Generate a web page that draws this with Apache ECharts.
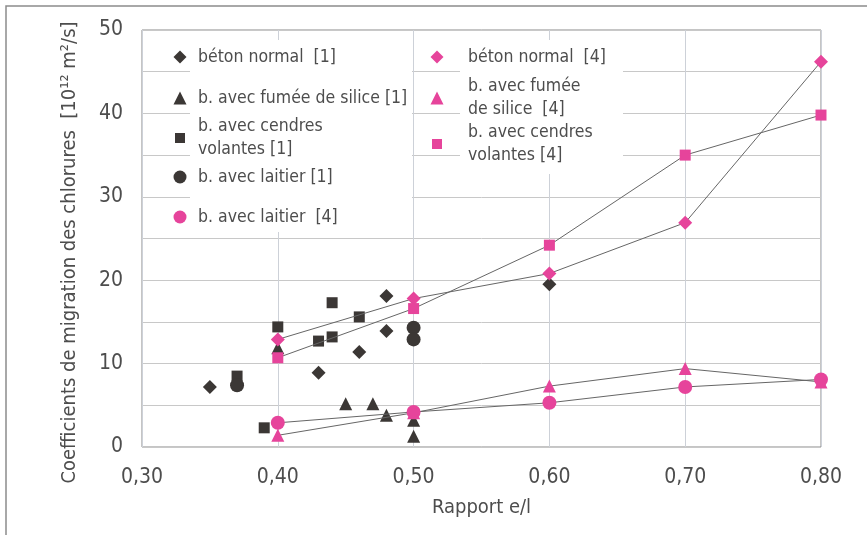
<!DOCTYPE html>
<html>
<head>
<meta charset="utf-8">
<script src="https://cdn.jsdelivr.net/npm/echarts@6/dist/echarts.min.js"></script>
<style>
html,body{margin:0;padding:0;background:#fff;}
#chart{width:867px;height:535px;}
</style>
</head>
<body>
<div id="chart"></div>
<script>
// ---- data (x = rapport e/l, y = coefficient) ----
const betonNormal1 = [[0.35,7.2],[0.43,8.9],[0.46,11.4],[0.48,13.9],[0.48,18.1],[0.60,19.5]];
const fumee1 = [[0.40,11.9],[0.45,5.2],[0.47,5.2],[0.48,3.8],[0.50,3.2],[0.50,1.3]];
const cendres1 = [[0.37,8.5],[0.39,2.3],[0.40,14.4],[0.43,12.7],[0.44,13.2],[0.44,17.3],[0.46,15.6]];
const laitier1 = [[0.37,7.4],[0.50,14.3],[0.50,12.9]];
const betonNormal4 = [[0.40,12.9],[0.50,17.8],[0.60,20.8],[0.70,26.9],[0.80,46.2]];
const fumee4 = [[0.40,1.4],[0.50,4.1],[0.60,7.3],[0.70,9.4],[0.80,7.8]];
const cendres4 = [[0.40,10.7],[0.50,16.6],[0.60,24.2],[0.70,35.0],[0.80,39.8]];
const laitier4 = [[0.40,2.9],[0.50,4.2],[0.60,5.3],[0.70,7.2],[0.80,8.1]];

const names = {
  bn1: 'béton normal  [1]',
  fs1: 'b. avec fumée de silice [1]',
  cv1: 'b. avec cendres volantes [1]',
  la1: 'b. avec laitier [1]',
  la4: 'b. avec laitier  [4]',
  bn4: 'béton normal  [4]',
  fs4: 'b. avec fumée de silice  [4]',
  cv4: 'b. avec cendres volantes [4]'
};
const legendLabels = {
  'béton normal  [1]': 'béton normal  [1]',
  'b. avec fumée de silice [1]': 'b. avec fumée de silice [1]',
  'b. avec cendres volantes [1]': 'b. avec cendres\nvolantes [1]',
  'b. avec laitier [1]': 'b. avec laitier [1]',
  'b. avec laitier  [4]': 'b. avec laitier  [4]',
  'béton normal  [4]': 'béton normal  [4]',
  'b. avec fumée de silice  [4]': 'b. avec fumée\nde silice  [4]',
  'b. avec cendres volantes [4]': 'b. avec cendres\nvolantes [4]'
};
const xTicks = ['0,30','0,40','0,50','0,60','0,70','0,80'];
const yTicks = [0,10,20,30,40,50];

const FONT = '"Liberation Sans Narrow", "DejaVu Sans Condensed", "Open Sans", sans-serif';
const DARK = '#3b3735';
const PINK = '#e6449b';
const TXT = '#4d4d4d';
const LH = 23;

function leg(name, icon, size, cx, cy, textX) {
  const iconRight = cx + size / 2;
  const lines = legendLabels[name].split('\n').length;
  return {
    data: [name],
    icon: icon,
    itemWidth: size,
    itemHeight: size,
    left: cx - size / 2,
    top: cy - lines * LH / 2,
    padding: 0,
    selectedMode: false,
    formatter: n => legendLabels[n],
    textStyle: {
      fontFamily: FONT, fontSize: 17.5, color: TXT, lineHeight: LH,
      padding: [0, 0, 0, textX - (iconRight + 5)]
    }
  };
}

function scatter(name, data, symbol, size, color) {
  return {
    name, type: 'scatter', data, symbol, symbolSize: size,
    itemStyle: { color: color, opacity: 1 }, z: 3
  };
}
function lineS(name, data, symbol, size) {
  return {
    name, type: 'line', data, symbol, symbolSize: size, showSymbol: true,
    lineStyle: { color: '#666', width: 1 },
    itemStyle: { color: PINK, opacity: 1 }, z: 4
  };
}

const chart = echarts.init(document.getElementById('chart'), null, { renderer: 'canvas' });
chart.setOption({
  backgroundColor: '#fff',
  animation: false,
  textStyle: { fontFamily: FONT },
  grid: {
    left: 142, right: 46, top: 30, bottom: 88,
    show: true, borderColor: '#8a8a8a', borderWidth: 1, backgroundColor: 'transparent'
  },
  xAxis: {
    type: 'value', min: 0.3, max: 0.8, interval: 0.1,
    name: 'Rapport e/l', nameLocation: 'middle', nameGap: 51,
    nameTextStyle: { fontFamily: FONT, fontSize: 20, color: TXT },
    axisLine: { show: false }, axisTick: { show: false },
    axisLabel: {
      margin: 20, fontFamily: FONT, fontSize: 21, color: TXT,
      formatter: v => { const i = Math.round((v - 0.3) * 10); return xTicks[i] !== undefined ? xTicks[i] : ''; }
    },
    splitLine: { show: true, lineStyle: { color: '#cdd1d8', width: 1 } }
  },
  yAxis: {
    type: 'value', min: 0, max: 50, interval: 5,
    name: 'Coefficients de migration des chlorures  [10¹² m²/s]',
    nameLocation: 'middle', nameGap: 62, nameRotate: 90,
    nameTextStyle: { fontFamily: FONT, fontSize: 20, color: TXT, padding: [0, 28, 0, 0] },
    axisLine: { show: false }, axisTick: { show: false },
    axisLabel: {
      margin: 19, fontFamily: FONT, fontSize: 21, color: TXT,
      formatter: v => (yTicks.indexOf(v) >= 0 ? String(v) : '')
    },
    splitLine: { show: true, lineStyle: { color: '#c8c8c8', width: 1 } }
  },
  graphic: [
    { type: 'rect', z: 1, silent: true, shape: { x: 190, y: 40, width: 222, height: 192 }, style: { fill: '#fff' } },
    { type: 'rect', z: 1, silent: true, shape: { x: 460, y: 40, width: 163, height: 134 }, style: { fill: '#fff' } },
    { type: 'rect', z: 0, silent: true, shape: { x: 6, y: 6, width: 900, height: 600 }, style: { fill: 'none', stroke: '#8c8c8c', lineWidth: 1.5 } }
  ],
  legend: [
    leg(names.bn1, 'diamond', 13, 180, 57, 198),
    leg(names.fs1, 'triangle', 13, 180, 98, 198),
    leg(names.cv1, 'rect', 10, 180, 138, 198),
    leg(names.la1, 'circle', 13, 180, 177, 198),
    leg(names.la4, 'circle', 13, 180, 217, 198),
    leg(names.bn4, 'diamond', 13, 437, 57, 468),
    leg(names.fs4, 'triangle', 13, 437, 98, 468),
    leg(names.cv4, 'rect', 10, 437, 144, 468)
  ],
  series: [
    scatter(names.bn1, betonNormal1, 'diamond', 14, DARK),
    scatter(names.fs1, fumee1, 'triangle', 13, DARK),
    scatter(names.cv1, cendres1, 'rect', 11, DARK),
    scatter(names.la1, laitier1, 'circle', 14, DARK),
    lineS(names.la4, laitier4, 'circle', 14),
    lineS(names.bn4, betonNormal4, 'diamond', 14),
    lineS(names.fs4, fumee4, 'triangle', 13),
    lineS(names.cv4, cendres4, 'rect', 11)
  ]
});
</script>
</body>
</html>
